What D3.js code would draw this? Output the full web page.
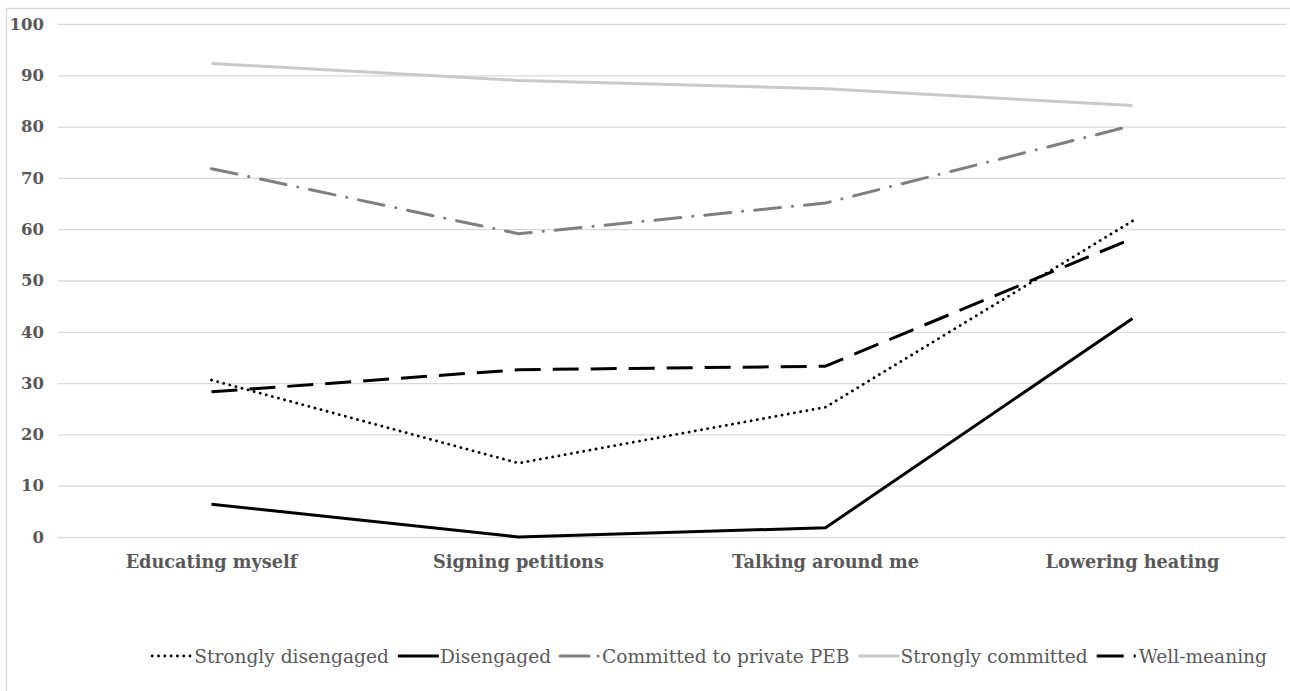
<!DOCTYPE html>
<html>
<head>
<meta charset="utf-8">
<script src="https://cdn.jsdelivr.net/npm/d3@7"></script>
<style>
  body { margin: 0; background: #fff; overflow: hidden; }
  svg { display: block; font-family: "DejaVu Serif", "Liberation Serif", serif; }
  .grid line { stroke: #d9d9d9; stroke-width: 1.3; }
  .axis text { fill: #595959; font-weight: bold; font-family: "DejaVu Serif", serif; }
  .legend text { fill: #595959; font-size: 18.6px; }
</style>
</head>
<body>
<div id="chart"></div>
<script>
// categories and series
const categories = ['Educating myself', 'Signing petitions', 'Talking around me', 'Lowering heating']
const yTicks = [0, 10, 20, 30, 40, 50, 60, 70, 80, 90, 100]

const stronglyDisengaged = [30.6, 14.4, 25.3, 61.6]
const disengaged = [6.4, 0, 1.8, 42.6]
const committedPrivate = [71.8, 59.1, 65.1, 80.2]
const stronglyCommitted = [92.3, 89.0, 87.4, 84.1]
const wellMeaning = [28.3, 32.6, 33.3, 58.2]

const seriesNames = ['Strongly disengaged', 'Disengaged', 'Committed to private PEB', 'Strongly committed', 'Well-meaning']

const series = [
    { name: seriesNames[0], values: stronglyDisengaged, color: '#000', width: 2.8, dash: '0.1 6.2', legendDash: '0.1 6.2', cap: 'round' },
    { name: seriesNames[1], values: disengaged, color: '#000', width: 3, dash: null, legendDash: null, cap: 'butt' },
    { name: seriesNames[2], values: committedPrivate, color: '#7f7f7f', width: 3, dash: '26 12 0.1 12', legendDash: '29 9 0.1 100', cap: 'round' },
    { name: seriesNames[3], values: stronglyCommitted, color: '#c9c9c9', width: 3, dash: null, legendDash: null, cap: 'butt' },
    { name: seriesNames[4], values: wellMeaning, color: '#000', width: 3, dash: '26 12', legendDash: '27 10 2 100', cap: 'butt' }
]

const width = 1290
const height = 691
const margins = { top: 24, right: 4, bottom: 154, left: 58 }
const innerWidth = width - margins.left - margins.right
const innerHeight = height - margins.top - margins.bottom

const svg = d3.select('#chart')
    .append('svg')
    .attr('width', width)
    .attr('height', height)

// chart area border (top and left edges are the only ones in frame)
svg.append('path')
    .attr('d', `M6.5,${height} V8.5 H${width}`)
    .attr('fill', 'none')
    .attr('stroke', '#d9d9d9')
    .attr('stroke-width', 1.3)

const g = svg.append('g')
    .attr('transform', `translate(${margins.left}, ${margins.top})`)

const xScale = d3.scaleBand()
    .domain(categories)
    .range([0, innerWidth])

const yScale = d3.scaleLinear()
    .domain([0, 100])
    .range([innerHeight, 0])

// gridlines + y labels
g.append('g')
    .attr('class', 'grid axis')
    .call(
        d3.axisLeft(yScale)
        .tickValues(yTicks)
        .tickSize(-innerWidth)
        .tickPadding(14)
    )
    .call(a => a.select('.domain').remove())
    .selectAll('text')
    .style('font-size', '16.5px')

// x labels
g.append('g')
    .attr('class', 'axis')
    .attr('transform', `translate(0, ${innerHeight})`)
    .call(d3.axisBottom(xScale).tickSize(0).tickPadding(18))
    .call(a => a.select('.domain').remove())
    .selectAll('text')
    .style('font-size', '17.7px')

const line = d3.line()
    .x((d, i) => xScale(categories[i]) + xScale.bandwidth() / 2)
    .y(d => yScale(d))

g.selectAll('.seriesLine')
    .data(series)
    .join('path')
    .attr('class', 'seriesLine')
    .attr('fill', 'none')
    .attr('stroke', d => d.color)
    .attr('stroke-width', d => d.width)
    .attr('stroke-dasharray', d => d.dash)
    .attr('stroke-linecap', d => d.cap)
    .attr('stroke-linejoin', 'round')
    .attr('d', d => line(d.values))

// legend
const legend = svg.append('g').attr('class', 'legend')
const symW = 41
let x = 0
series.forEach(s => {
    const item = legend.append('g')
    item.append('line')
        .attr('x1', 0).attr('x2', symW)
        .attr('y1', 0).attr('y2', 0)
        .attr('stroke', s.color)
        .attr('stroke-width', s.width)
        .attr('stroke-dasharray', s.legendDash)
        .attr('stroke-linecap', s.cap)
    const t = item.append('text')
        .attr('x', symW + 1)
        .attr('dy', '0.35em')
        .text(s.name)
    item.attr('transform', `translate(${x}, 0)`)
    x += symW + 1 + t.node().getComputedTextLength() + 9
})
const legendWidth = x - 9
legend.attr('transform', `translate(${1267 - legendWidth}, 656)`)
</script>
</body>
</html>
